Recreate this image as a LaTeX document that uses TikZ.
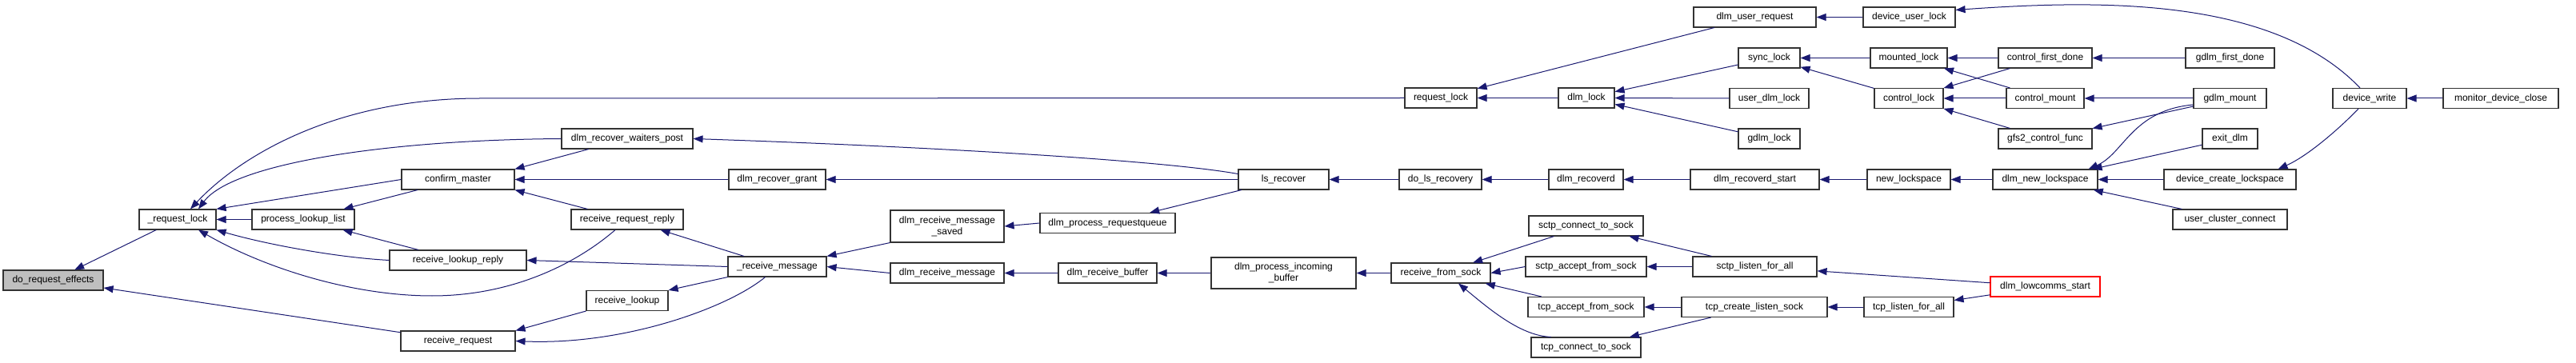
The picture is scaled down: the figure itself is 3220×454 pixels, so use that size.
\documentclass[tikz,border=0pt]{standalone}
\usepackage{fontspec}
\setmainfont{Liberation Sans}
\usetikzlibrary{arrows.meta}
\definecolor{edgeblue}{HTML}{191970}
\definecolor{boxgray}{HTML}{BFBFBF}
\definecolor{boxline}{HTML}{333333}
\begin{document}
\begin{tikzpicture}[x=1pt,y=1pt,
  fn/.style={draw=boxline, line width=1.1pt, fill=white, inner sep=0pt,
    minimum height=25pt, align=center, font=\fontsize{12}{14.3}\selectfont},
  call/.style={draw=edgeblue, line width=1pt, {Triangle[length=12pt,width=9pt]}-}]
\useasboundingbox (0,0) rectangle (3220,-454);
% column 1
\node[fn, fill=boxgray, minimum width=125pt] (dre) at (66.5,-350.5) {do\_request\_effects};
\node[fn, minimum width=96pt] (rl) at (222,-274.5) {\_request\_lock};
\node[fn, minimum width=128pt] (pll) at (379,-274.5) {process\_lookup\_list};
\node[fn, minimum width=141pt] (cm) at (572.5,-224.5) {confirm\_master};
\node[fn, minimum width=171pt] (rlr) at (572.5,-325.5) {receive\_lookup\_reply};
\node[fn, minimum width=143pt] (rr) at (572.5,-426.5) {receive\_request};
\node[fn, minimum width=164pt] (drwp) at (784,-173.5) {dlm\_recover\_waiters\_post};
\node[fn, minimum width=121pt] (drg) at (971.5,-224.5) {dlm\_recover\_grant};
\node[fn, minimum width=140pt] (rrr) at (784,-274.5) {receive\_request\_reply};
\node[fn, minimum width=123pt] (rm) at (971.5,-333.5) {\_receive\_message};
\node[fn, minimum width=102pt] (rlk) at (784,-376) {receive\_lookup};
\node[fn, minimum width=142pt, minimum height=40pt] (drms) at (1184,-283) {dlm\_receive\_message\\\_saved};
\node[fn, minimum width=169pt] (dprq) at (1384.5,-279) {dlm\_process\_requestqueue};
\node[fn, minimum width=142pt] (drm) at (1184,-341.5) {dlm\_receive\_message};
\node[fn, minimum width=123pt] (drb) at (1384.5,-341.5) {dlm\_receive\_buffer};
\node[fn, minimum width=181pt, minimum height=39pt] (dpib) at (1604.5,-341.5) {dlm\_process\_incoming\\\_buffer};
\node[fn, minimum width=113pt] (lsr) at (1604.5,-224.5) {ls\_recover};
\node[fn, minimum width=90pt] (reql) at (1801,-122.5) {request\_lock};
\node[fn, minimum width=70pt] (dl) at (1983,-122.5) {dlm\_lock};
\node[fn, minimum width=103pt] (dlr) at (1800.5,-224.5) {do\_ls\_recovery};
\node[fn, minimum width=93pt] (drd) at (1982.5,-224.5) {dlm\_recoverd};
\node[fn, minimum width=124pt] (rfs) at (1801,-341.5) {receive\_from\_sock};
\node[fn, minimum width=143pt] (scs) at (1982.5,-282.5) {sctp\_connect\_to\_sock};
\node[fn, minimum width=151pt] (sas) at (1982.5,-333.5) {sctp\_accept\_from\_sock};
\node[fn, minimum width=145pt] (tas) at (1982.5,-384) {tcp\_accept\_from\_sock};
\node[fn, minimum width=137pt] (tcs) at (1982.5,-434.5) {tcp\_connect\_to\_sock};
\node[fn, minimum width=153pt] (dur) at (2193.5,-21.5) {dlm\_user\_request};
\node[fn, minimum width=115pt] (dul) at (2386.5,-21.5) {device\_user\_lock};
\node[fn, minimum width=77pt] (sl) at (2211.5,-72.5) {sync\_lock};
\node[fn, minimum width=99pt] (udl) at (2211.5,-123) {user\_dlm\_lock};
\node[fn, minimum width=77pt] (gl) at (2211.5,-173.5) {gdlm\_lock};
\node[fn, minimum width=96pt] (ml) at (2386,-72.5) {mounted\_lock};
\node[fn, minimum width=86pt] (cl) at (2386,-123) {control\_lock};
\node[fn, minimum width=117pt] (cfd) at (2556.5,-72.5) {control\_first\_done};
\node[fn, minimum width=97pt] (cmt) at (2556.5,-123) {control\_mount};
\node[fn, minimum width=117pt] (gcf) at (2556.5,-173.5) {gfs2\_control\_func};
\node[fn, minimum width=161pt] (drs) at (2193.5,-224.5) {dlm\_recoverd\_start};
\node[fn, minimum width=104pt] (nl) at (2386,-224.5) {new\_lockspace};
\node[fn, minimum width=131pt] (dnl) at (2556.5,-224.5) {dlm\_new\_lockspace};
\node[fn, minimum width=155pt] (slfa) at (2193.5,-333.5) {sctp\_listen\_for\_all};
\node[fn, minimum width=182pt] (tcls) at (2193,-384) {tcp\_create\_listen\_sock};
\node[fn, minimum width=112pt] (tlfa) at (2386,-384) {tcp\_listen\_for\_all};
\node[fn, draw=red, minimum width=137pt] (dls) at (2556.5,-358.5) {dlm\_lowcomms\_start};
\node[fn, minimum width=111pt] (gfd) at (2787.5,-72.5) {gdlm\_first\_done};
\node[fn, minimum width=91pt] (gm) at (2787.5,-123) {gdlm\_mount};
\node[fn, minimum width=69pt] (ed) at (2787.5,-173.5) {exit\_dlm};
\node[fn, minimum width=165pt] (dcl) at (2787.5,-224.5) {device\_create\_lockspace};
\node[fn, minimum width=143pt] (ucc) at (2787.5,-274.5) {user\_cluster\_connect};
\node[fn, minimum width=92pt] (dw) at (2962,-123) {device\_write};
\node[fn, minimum width=144pt] (mdc) at (3126,-123) {monitor\_device\_close};
% edges (arrowhead at callee, listed first)
\draw[call] (dre) -- (rl);
\draw[call] (dre) -- (rr);
\draw[call] ([xshift=16pt]rl.north) .. controls (300,-195) and (420,-123) .. (600,-123) -- (reql.west);
\draw[call] ([xshift=26pt]rl.north) .. controls (290,-205) and (480,-175) .. (drwp.west);
\draw[call] (rl.north east) -- (cm.west);
\draw[call] (rl.east) -- (pll.west);
\draw[call] (rl.south east) .. controls (330,-305) and (420,-322) .. (rlr.west);
\draw[call] ([xshift=26pt]rl.south) .. controls (330,-335) and (440,-370) .. (540,-370) .. controls (640,-370) and (720,-330) .. ([xshift=-15pt]rrr.south);
\draw[call] (pll) -- (cm);
\draw[call] (pll) -- (rlr);
\draw[call] (cm.north east) -- (drwp);
\draw[call] (cm.east) -- (drg.west);
\draw[call] (cm.south east) -- (rrr);
\draw[call] (rrr) -- (rm);
\draw[call] (rlr.east) -- (rm.west);
\draw[call] (rlk.north east) -- (rm.south west);
\draw[call] (rr.north east) -- (rlk.south west);
\draw[call] (rr.east) .. controls (780,-432) and (910,-385) .. ([xshift=-15pt]rm.south);
\draw[call] (drwp.east) .. controls (1150,-183) and (1450,-200) .. ([yshift=7pt]lsr.west);
\draw[call] (drg.east) -- (lsr.west);
\draw[call] (rm.north east) -- (drms.south west);
\draw[call] (rm.east) -- (drm.west);
\draw[call] (drms.east) -- (dprq.west);
\draw[call] (dprq) -- (lsr);
\draw[call] (drm.east) -- (drb.west);
\draw[call] (drb.east) -- (dpib.west);
\draw[call] (dpib.east) -- (rfs.west);
\draw[call] (rfs) -- (scs);
\draw[call] (rfs.east) -- (sas.west);
\draw[call] (rfs) -- (tas);
\draw[call] ([xshift=22pt]rfs.south) .. controls (1860,-385) and (1900,-420) .. ([xshift=-44pt]tcs.north);
\draw[call] (scs) -- (slfa);
\draw[call] (sas.east) -- (slfa.west);
\draw[call] (tas.east) -- (tcls.west);
\draw[call] (tcs) -- (tcls);
\draw[call] (slfa) -- (dls);
\draw[call] (tcls.east) -- (tlfa.west);
\draw[call] (tlfa) -- (dls);
\draw[call] (lsr.east) -- (dlr.west);
\draw[call] (dlr.east) -- (drd.west);
\draw[call] (drd.east) -- (drs.west);
\draw[call] (drs.east) -- (nl.west);
\draw[call] (nl.east) -- (dnl.west);
\draw[call] ([xshift=-12pt]dnl.north east) .. controls (2655,-192) and (2665,-138) .. ([yshift=-8pt]gm.west);
\draw[call] (dnl) -- (ed);
\draw[call] (dnl.east) -- (dcl.west);
\draw[call] (dnl) -- (ucc);
\draw[call] ([xshift=60pt]dcl.north) .. controls (2885,-195) and (2925,-160) .. ([xshift=-14pt]dw.south);
\draw[call] (dw.east) -- (mdc.west);
\draw[call] (reql) -- (dur);
\draw[call] (reql.east) -- (dl.west);
\draw[call] (dur.east) -- (dul.west);
\draw[call] ([yshift=9pt]dul.east) .. controls (2620,0) and (2840,5) .. ([xshift=-12pt]dw.north);
\draw[call] (dl) -- (sl);
\draw[call] (dl.east) -- (udl.west);
\draw[call] (dl) -- (gl);
\draw[call] (sl.east) -- (ml.west);
\draw[call] (sl) -- (cl);
\draw[call] (ml.east) -- (cfd.west);
\draw[call] (ml) -- (cmt);
\draw[call] (cl) -- (cfd);
\draw[call] (cl.east) -- (cmt.west);
\draw[call] (cl) -- (gcf);
\draw[call] (cfd.east) -- (gfd.west);
\draw[call] (cmt.east) -- (gm.west);
\draw[call] (gcf) -- (gm);
\end{tikzpicture}
\end{document}
